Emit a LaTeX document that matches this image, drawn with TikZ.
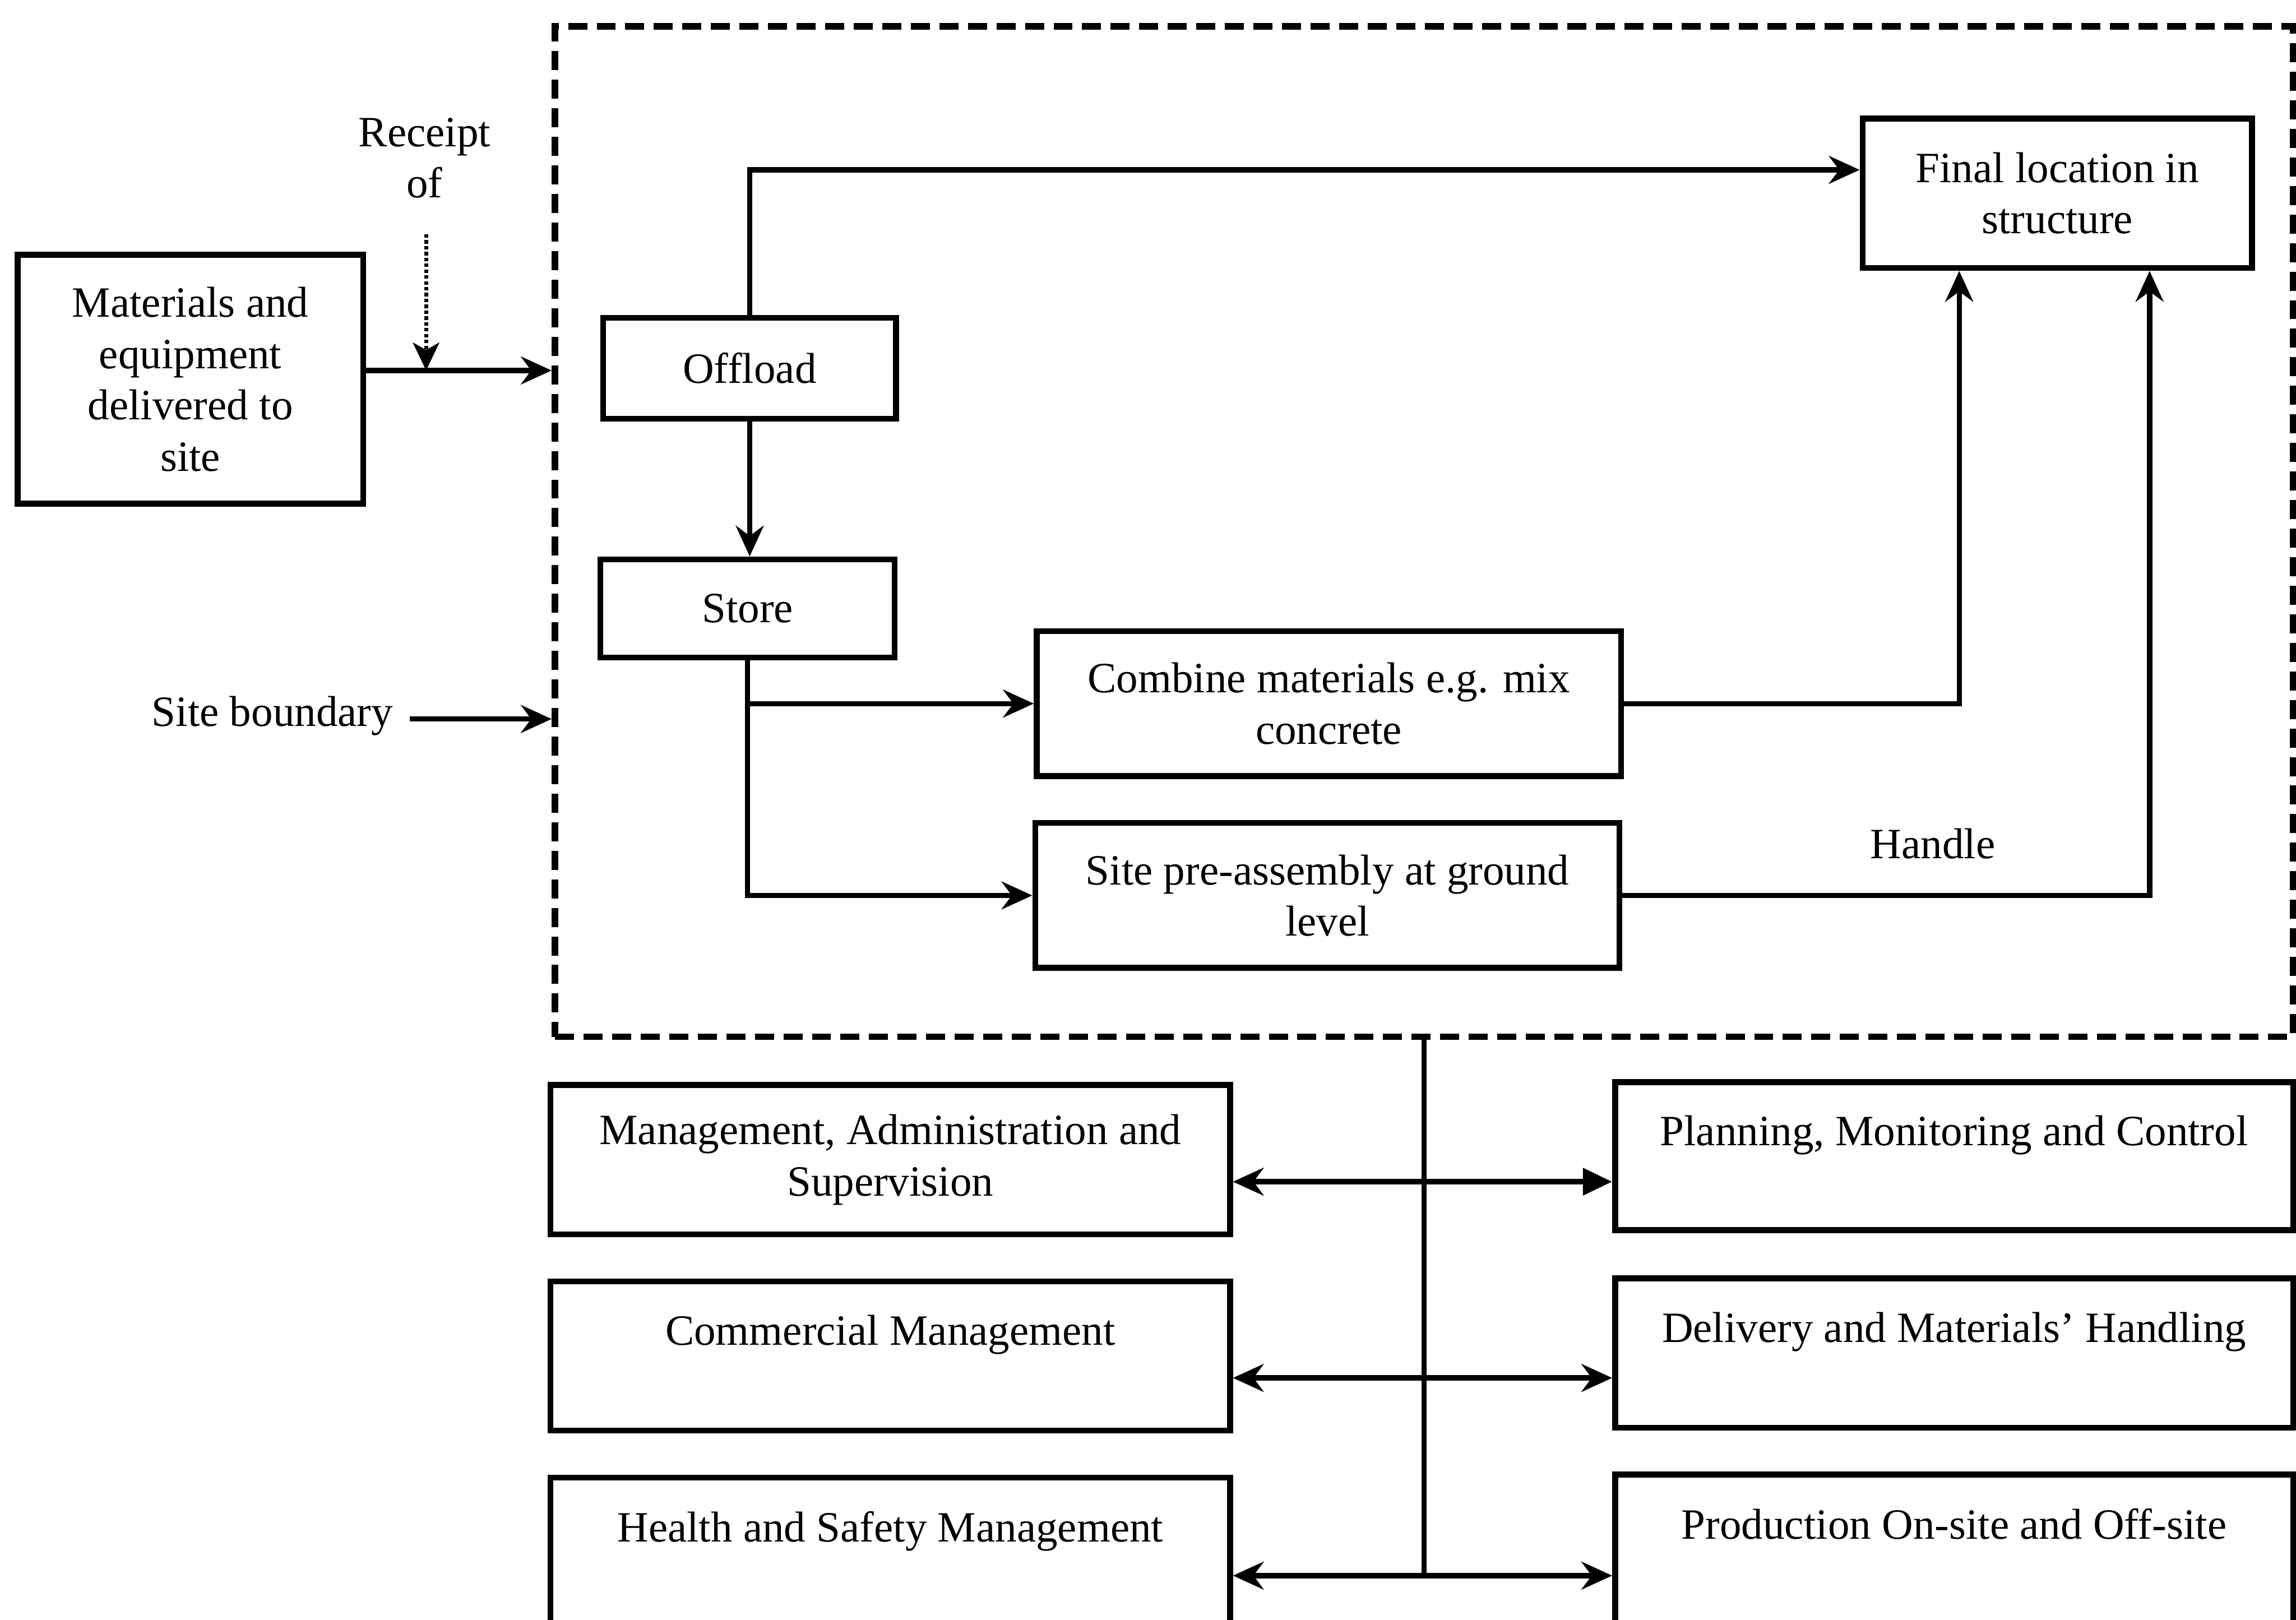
\documentclass[tikz,border=0pt]{standalone}
\usepackage{fontspec}
\setmainfont{Liberation Serif}
\usetikzlibrary{arrows.meta}
\begin{document}
\begin{tikzpicture}[x=1pt,y=-1pt,
  font=\fontsize{29.5}{35}\selectfont,
  blk/.style={draw, line width=4pt, rectangle, inner sep=0pt, align=center},
  wire/.style={line width=3.6pt},
  conn/.style={wire, -{Stealth[length=21pt,width=19pt,inset=7pt]}},
  dbl/.style={wire, {Stealth[length=21pt,width=19pt,inset=7pt]}-{Stealth[length=21pt,width=19pt,inset=7pt]}},
  dblfill/.style={wire, {Stealth[length=21pt,width=19pt,inset=7pt]}-{Triangle[length=20pt,width=18pt]}},
  site/.style={draw, line width=4.5pt, dash pattern=on 13pt off 6.5pt, rectangle, inner sep=0pt},
  dotarrow/.style={line width=2.8pt, dash pattern=on 2.4pt off 1.6pt, -{Stealth[length=19pt,width=18pt,inset=5pt]}}]

\clip (0,0) rectangle (1568,1106);

% site boundary
\node[site, minimum width=1187pt, minimum height=690pt] (site) at (972.5,363) {};

% delivery to site
\node[blk, minimum width=236pt, minimum height=170pt] (mat) at (130,259)
  {Materials and\\equipment\\delivered to\\site};
\node[align=center] (rcpt) at (290,108) {Receipt\\of};
\node (sb) at (186,489) {Site boundary};

% on-site flow
\node[blk, minimum width=200pt, minimum height=69pt] (offload) at (512,251.5) {Offload};
\node[blk, minimum width=201pt, minimum height=67pt] (store) at (510.5,415.5) {Store};
\node[blk, minimum width=266pt, minimum height=102pt] (final) at (1405,132) {Final location in\\structure};
\node[blk, minimum width=399pt, minimum height=99pt] (combine) at (907.5,480.5) {Combine materials e.g. mix\\concrete};
\node[blk, minimum width=399pt, minimum height=99pt] (preasm) at (906.5,611.5) {Site pre-assembly at ground\\level};
\node (handle) at (1320,576) {Handle};

% supporting functions
\node[blk, minimum width=464pt, minimum height=102pt] (mgmt) at (608,792) {Management, Administration and\\Supervision};
\node[blk, minimum width=464pt, minimum height=102pt] (comm) at (608,926) {Commercial Management\\\mbox{}};
\node[blk, minimum width=464pt, minimum height=102pt] (hsm) at (608,1060) {Health and Safety Management\\\mbox{}};
\node[blk, minimum width=463pt, minimum height=101pt] (plan) at (1334.5,789.5) {Planning, Monitoring and Control\\\mbox{}};
\node[blk, minimum width=463pt, minimum height=102pt] (deliv) at (1334.5,924) {Delivery and Materials' Handling\\\mbox{}};
\node[blk, minimum width=463pt, minimum height=102pt] (prod) at (1334.5,1058) {Production On-site and Off-site\\\mbox{}};

% connectors into the site
\coordinate (gate) at ([yshift=6pt]mat.east);
\draw[conn] (gate) -- (gate -| site.west);
\coordinate (rtop) at (291,160);
\draw[dotarrow] (rtop) -- (rtop |- gate);
\draw[conn] ([xshift=8pt,yshift=-2pt]sb.east) -- ([yshift=-2pt]sb.east -| site.west);

% connectors inside the site
\draw[conn] (offload.north) |- ([yshift=16pt]final.west);
\draw[conn] (offload.south) -- (offload.south |- store.north);
\draw[conn] (store.south) |- (preasm.west);
\draw[conn] (store.south |- combine.west) -- (combine.west);
\draw[conn] (combine.east) -| ([xshift=-67pt]final.south);
\draw[conn] (preasm.east) -| ([xshift=63pt]final.south);

% links to supporting functions
\coordinate (r1) at ([yshift=-15pt]mgmt.east);
\coordinate (r2) at ([yshift=-15pt]comm.east);
\coordinate (r3) at ([yshift=-16pt]hsm.east);
\draw[wire] (site.south) -- (site.south |- r3);
\draw[dblfill] (r1) -- (r1 -| plan.west);
\draw[dbl] (r2) -- (r2 -| deliv.west);
\draw[dbl] (r3) -- (r3 -| prod.west);
\end{tikzpicture}
\end{document}
